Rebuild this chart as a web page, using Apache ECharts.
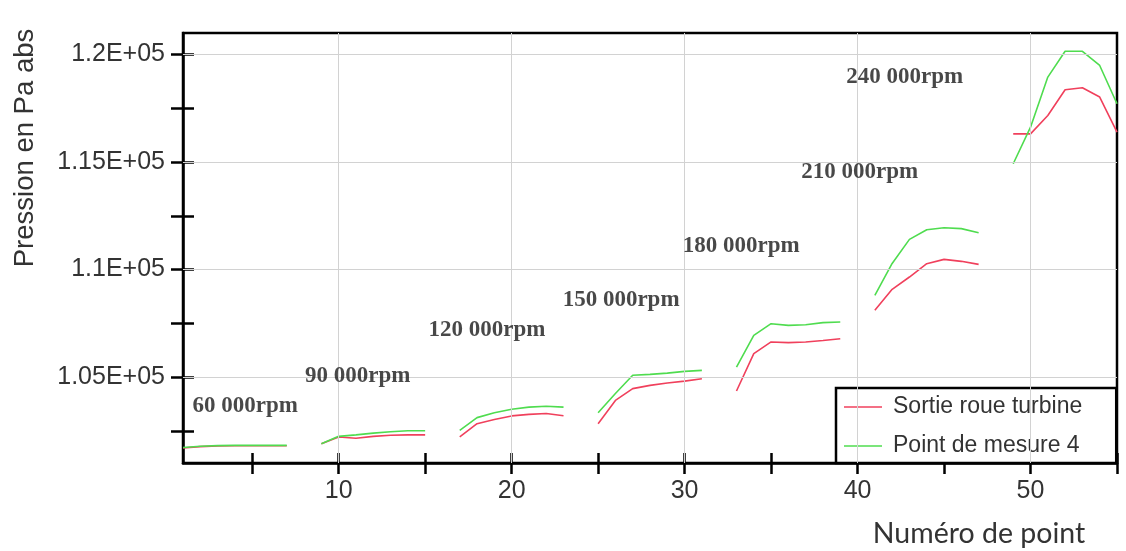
<!DOCTYPE html>
<html><head><meta charset="utf-8">
<script src="https://cdn.jsdelivr.net/npm/echarts@6/dist/echarts.min.js"></script>
<style>html,body{margin:0;padding:0;background:#fff}#c{width:1126px;height:551px}</style>
</head><body><div id="c"></div>
<script>
// ---- data ----
const pointNumbers = Array.from({length: 55}, (_, i) => i + 1);
const sortieRoueTurbine = [
  101700, 101760, 101790, 101800, 101800, 101800, 101800, null,
  101900, 102210, 102150, 102240, 102290, 102310, 102310, null,
  102210, 102830, 103020, 103190, 103260, 103300, 103200, null,
  102830, 103910, 104460, 104610, 104720, 104810, 104920, null,
  104350, 106090, 106630, 106600, 106630, 106700, 106780, null,
  108100, 109080, 109650, 110270, 110470, 110380, 110240, null,
  116310, 116310, 117160, 118360, 118450, 118020, 116390
];
const pointDeMesure4 = [
  101720, 101780, 101810, 101820, 101820, 101820, 101820, null,
  101900, 102240, 102310, 102390, 102450, 102500, 102500, null,
  102520, 103110, 103340, 103500, 103600, 103640, 103600, null,
  103340, 104230, 105080, 105120, 105180, 105260, 105310, null,
  105460, 106940, 107480, 107400, 107430, 107530, 107560, null,
  108800, 110280, 111400, 111850, 111940, 111900, 111710, null,
  114920, 116620, 118950, 120150, 120150, 119490, 117710
];
const seriesNames = ['Sortie roue turbine', 'Point de mesure 4'];
const xTickValues = [5, 10, 15, 20, 25, 30, 35, 40, 45, 50, 55];
const xLabelValues = [10, 20, 30, 40, 50];
const yTickValues = [102500, 105000, 107500, 110000, 112500, 115000, 117500, 120000];
const yLabelValues = [105000, 110000, 115000, 120000];
const yTickLabels = ['1.05E+05', '1.1E+05', '1.15E+05', '1.2E+05'];
const rpmLabels = ['60 000rpm', '90 000rpm', '120 000rpm', '150 000rpm', '180 000rpm', '210 000rpm', '240 000rpm'];
const rpmX = [1.55, 8.05, 15.2, 22.95, 29.9, 36.75, 39.35];
const rpmY = [103640, 105030, 107170, 108560, 111070, 114510, 118930];

// ---- chart ----
const toPairs = vals => pointNumbers.map((p, i) => [p, vals[i] == null ? '-' : vals[i]]);
const axisFont = {fontFamily: '"Liberation Sans", Arial, sans-serif', fontSize: 25, color: '#333'};
const chart = echarts.init(document.getElementById('c'), null, {renderer: 'canvas'});
chart.setOption({
  animation: false,
  backgroundColor: '#fff',
  grid: {left: 183, right: 9, top: 33, bottom: 88, show: true, borderColor: '#000', borderWidth: 2.5, containLabel: false, outerBoundsMode: 'none'},
  legend: {
    data: seriesNames,
    orient: 'vertical', left: 836, top: 388,
    icon: 'rect',
    backgroundColor: '#fff', borderColor: '#000', borderWidth: 2.5, borderRadius: 0,
    padding: [6, 34, 4, 8], itemWidth: 38, itemHeight: 1.6, itemGap: 13,
    textStyle: {fontFamily: '"Liberation Sans", Arial, sans-serif', fontSize: 23, color: '#333', lineHeight: 26, padding: [0, 0, 0, 6]}
  },
  xAxis: [{
    type: 'value', min: 1, max: 55, position: 'bottom',
    axisLine: {show: true, onZero: false, lineStyle: {color: '#000', width: 2.5}},
    axisTick: {show: true, inside: false, length: 11, customValues: xTickValues, lineStyle: {color: '#000', width: 2.5}},
    axisLabel: {show: true, customValues: xLabelValues, margin: 16, ...axisFont},
    splitLine: {show: false}
  }, {
    type: 'value', min: 1, max: 55, position: 'bottom', offset: 0,
    axisLine: {show: false},
    axisTick: {show: true, inside: true, length: 10, customValues: xTickValues, lineStyle: {color: '#000', width: 2.5}},
    axisLabel: {show: false},
    splitLine: {show: false}
  }],
  yAxis: [{
    type: 'value', min: 101000, max: 121000, position: 'left',
    axisLine: {show: true, onZero: false, lineStyle: {color: '#000', width: 2.5}},
    axisTick: {show: true, inside: false, length: 12, customValues: yTickValues, lineStyle: {color: '#000', width: 2.5}},
    axisLabel: {show: true, customValues: yLabelValues, margin: 18, ...axisFont,
      formatter: v => yTickLabels[yLabelValues.indexOf(v)] || ''},
    splitLine: {show: false}
  }, {
    type: 'value', min: 101000, max: 121000, position: 'left', offset: 0,
    axisLine: {show: false},
    axisTick: {show: true, inside: true, length: 11, customValues: yTickValues, lineStyle: {color: '#000', width: 2.5}},
    axisLabel: {show: false},
    splitLine: {show: false}
  }],
  graphic: [
    {type: 'text', x: 25, y: 148, rotation: Math.PI / 2, z: 10,
      style: {text: 'Pression en Pa abs', fontFamily: '"Liberation Sans", Arial, sans-serif', fontSize: 27.5, fill: '#333', align: 'center', verticalAlign: 'middle'}},
    {type: 'text', x: 979, y: 534, z: 10,
      style: {text: 'Numéro de point', fontFamily: 'Lato, "Open Sans", sans-serif', fontSize: 28.5, fill: '#333', align: 'center', verticalAlign: 'middle'}}
  ],
  series: [
    {
      name: 'grid', type: 'line', data: [], z: 1, silent: true,
      markLine: {
        silent: true, symbol: ['none', 'none'], animation: false,
        label: {show: false},
        lineStyle: {color: '#d2d2d2', width: 1, type: 'solid'},
        data: yLabelValues.map(v => ({yAxis: v})).concat(xLabelValues.map(v => ({xAxis: v})))
      }
    },
    {
      name: seriesNames[0], type: 'line', data: toPairs(sortieRoueTurbine), symbol: 'none',
      connectNulls: false, z: 3, color: '#f0405c', lineStyle: {color: '#f0405c', width: 1.6}
    },
    {
      name: seriesNames[1], type: 'line', data: toPairs(pointDeMesure4), symbol: 'none',
      connectNulls: false, z: 4, color: '#4fdc4f', lineStyle: {color: '#4fdc4f', width: 1.6}
    },
    {
      name: 'rpm', type: 'scatter', symbolSize: 0, z: 5, silent: true,
      data: rpmLabels.map((t, i) => ({value: [rpmX[i], rpmY[i]], name: t})),
      label: {show: true, position: 'right', distance: 0, formatter: p => p.name,
        fontFamily: '"Liberation Serif", "DejaVu Serif", serif', fontWeight: 'bold', fontSize: 23, color: '#1a1a1a'}
    }
  ]
});
</script></body></html>
